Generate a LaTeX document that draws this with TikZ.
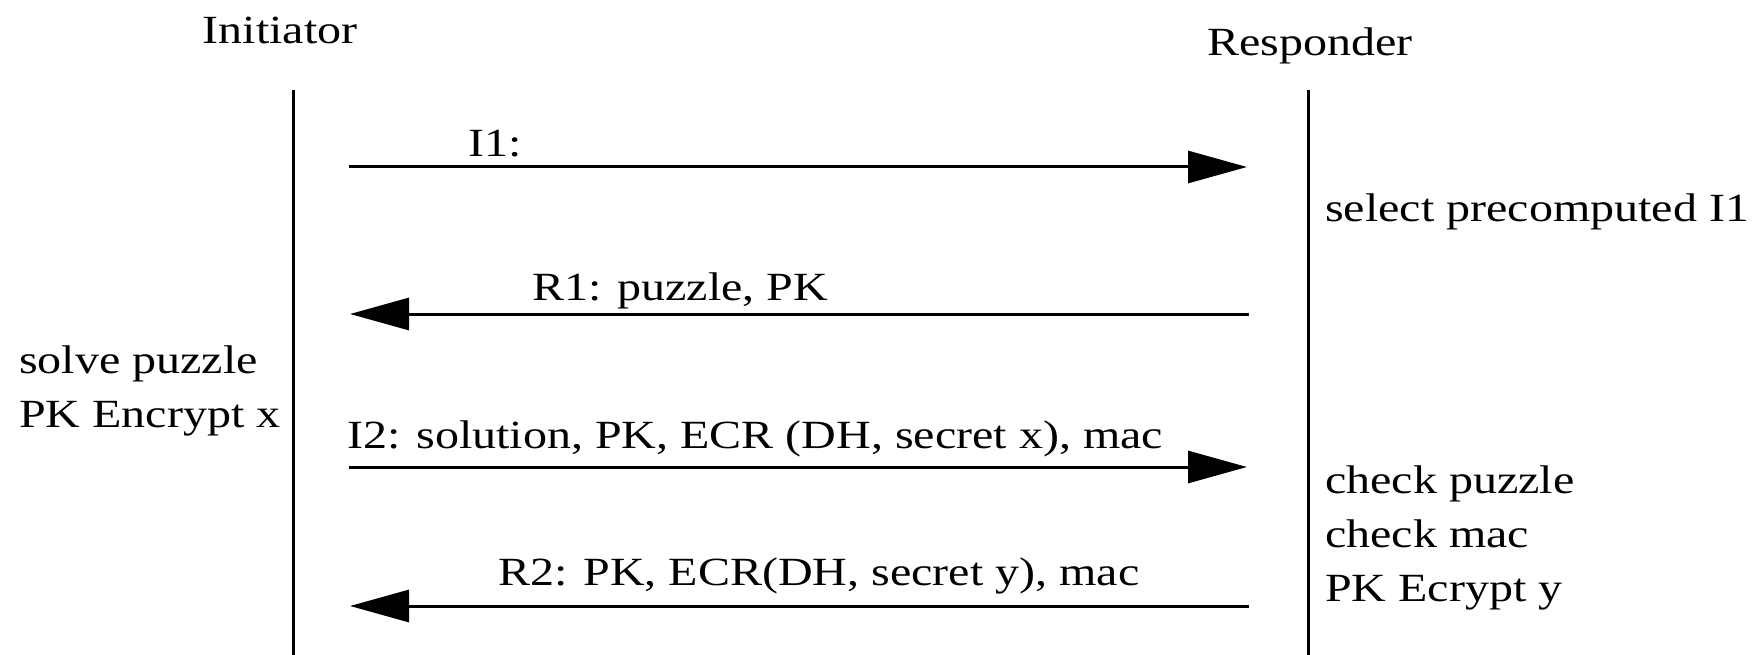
\documentclass[tikz,border=0pt]{standalone}
\usepackage{fontspec}
\setmainfont[FakeStretch=1.2]{Liberation Serif}
\usetikzlibrary{arrows.meta}
\begin{document}
\begin{tikzpicture}[x=1pt,y=-1pt,
  lbl/.style={inner sep=0pt,anchor=base west,font=\fontsize{40}{48}\selectfont},
  head/.style={inner sep=0pt,anchor=base,font=\fontsize{40}{48}\selectfont},
  life/.style={line width=3pt},
  msg/.style={line width=3pt,-{Triangle[length=59pt,width=32pt]}}]
\useasboundingbox (0,0) rectangle (1756,655);
% participants
\node[head] (ini) at (280,44) {Initiator};
\node[head] (res) at (1310,56) {Responder};
% lifelines
\coordinate (ltop) at (293,90);
\coordinate (lbot) at (293,655);
\coordinate (rtop) at (1308,90);
\coordinate (rbot) at (1308,655);
\draw[life] (ltop) -- (lbot);
\draw[life] (rtop) -- (rbot);
% message end points
\coordinate (i1a) at (349,167);  \coordinate (i1b) at (1247,167);
\coordinate (r1a) at (1249,314); \coordinate (r1b) at (350,314);
\coordinate (i2a) at (349,467);  \coordinate (i2b) at (1247,467);
\coordinate (r2a) at (1249,606); \coordinate (r2b) at (350,606);
\draw[msg] (i1a) -- (i1b);
\draw[msg] (r1a) -- (r1b);
\draw[msg] (i2a) -- (i2b);
\draw[msg] (r2a) -- (r2b);
% message labels
\node[lbl] (li1) at (468,157) {I1:};
\node[lbl] (lr1) at (532,300) {R1: puzzle, PK};
\node[lbl] (li2) at (347,448) {I2: solution, PK, ECR (DH, secret x), mac};
\node[lbl] (lr2) at (498,585) {R2: PK, ECR(DH, secret y), mac};
% local actions
\node[lbl] (sel) at (1325,222) {select precomputed I1};
\node[lbl] (sp) at (19,373) {solve puzzle};
\node[lbl] (pkx) at (19,427) {PK Encrypt x};
\node[lbl] (cp) at (1325,493) {check puzzle};
\node[lbl] (cm) at (1325,547) {check mac};
\node[lbl] (pky) at (1325,601) {PK Ecrypt y};
\end{tikzpicture}
\end{document}
